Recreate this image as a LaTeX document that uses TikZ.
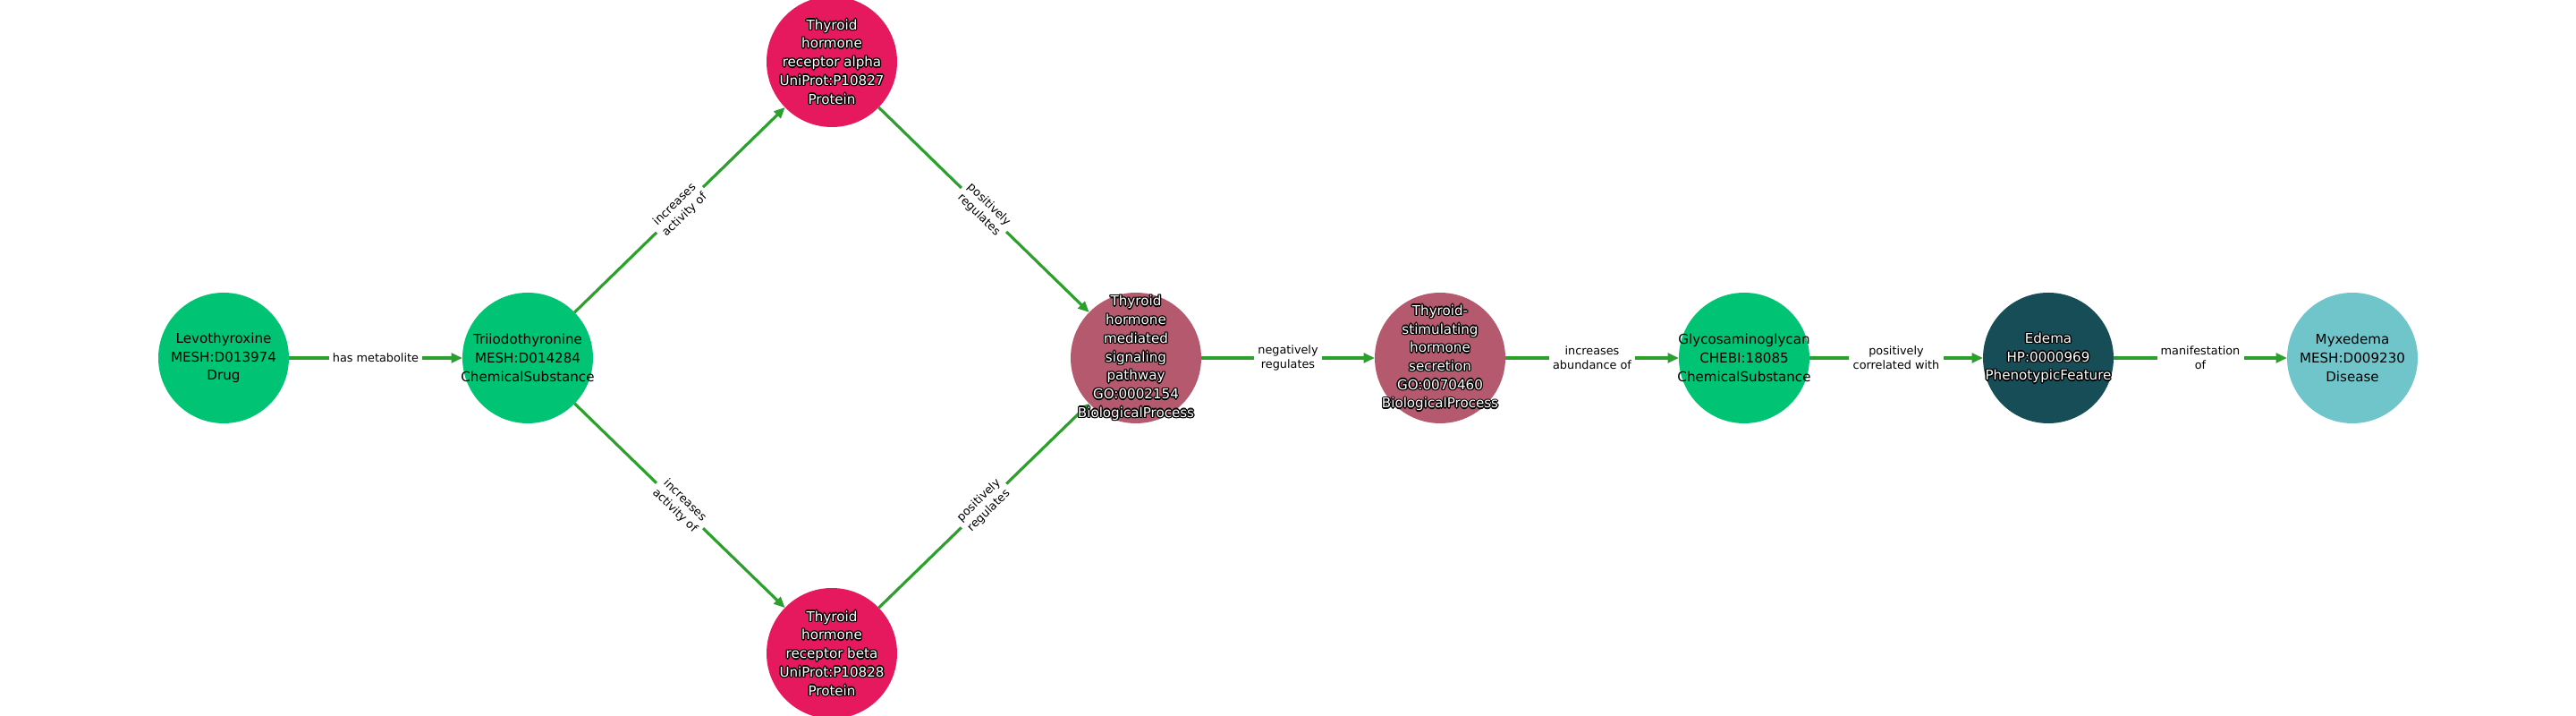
\documentclass[tikz,border=0pt]{standalone}
\usepackage{fontspec}
\setmainfont{DejaVu Sans}
\usepackage{tikz}
\usetikzlibrary{positioning, arrows.meta}
\definecolor{chem}{HTML}{00C373}
\definecolor{prot}{HTML}{E6195F}
\definecolor{bioproc}{HTML}{B55A6E}
\definecolor{pheno}{HTML}{174D57}
\definecolor{disease}{HTML}{70C5CB}
\definecolor{edgegreen}{HTML}{2CA02C}

% white text with a black rim
\newcommand{\halotext}[2]{%
    \foreach \dx/\dy in {0.4/0,-0.4/0,0/0.4,0/-0.4,0.28/0.28,-0.28/0.28,0.28/-0.28,-0.28/-0.28}
        \node [txt, text=black, xshift=\dx pt, yshift=\dy pt] at (#1) {#2};
    \node [txt, text=white] at (#1) {#2};
}

\begin{document}
\begin{tikzpicture}[>={Triangle[length=3.5pt, width=3pt]},
    ent/.style={circle, minimum size=1.46cm, inner sep=0pt, outer sep=0pt},
    txt/.style={align=center, inner sep=0pt, font=\fontsize{4.3}{5.9}\selectfont},
    link/.style={->, draw=edgegreen, line width=0.9pt},
    elabel/.style={midway, fill=white, inner sep=1.2pt, align=center,
        font=\fontsize{3.65}{4.55}\selectfont}]

    \useasboundingbox (0,0) rectangle (28.8,8);

    \node [ent, fill=chem] (levo) at (2.5,4) {};
    \node [ent, fill=chem, right=1.94 of levo] (trii) {};
    \node [ent, fill=prot] (thra) at (9.3,7.31) {};
    \node [ent, fill=prot] (thrb) at (9.3,0.7) {};
    \node [ent, fill=bioproc] (thsig) at (12.7,4) {};
    \node [ent, fill=bioproc, right=1.94 of thsig] (tshsec) {};
    \node [ent, fill=chem, right=1.94 of tshsec] (gag) {};
    \node [ent, fill=pheno, right=1.94 of gag] (edema) {};
    \node [ent, fill=disease, right=1.94 of edema] (myx) {};

    % edges %
    \draw [link] (levo) -- node [elabel] {has metabolite} (trii);
    \draw [link] (trii) -- node [elabel, sloped] {increases\\activity of} (thra);
    \draw [link] (trii) -- node [elabel, sloped] {increases\\activity of} (thrb);
    \draw [link] (thra) -- node [elabel, sloped] {positively\\regulates} (thsig);
    \draw [link] (thrb) -- node [elabel, sloped] {positively\\regulates} (thsig);
    \draw [link] (thsig) -- node [elabel] {negatively\\regulates} (tshsec);
    \draw [link] (tshsec) -- node [elabel] {increases\\abundance of} (gag);
    \draw [link] (gag) -- node [elabel] {positively\\correlated with} (edema);
    \draw [link] (edema) -- node [elabel] {manifestation\\of} (myx);

    % labels %
    \node [txt] at (levo) {Levothyroxine\\MESH:D013974\\Drug};
    \node [txt] at (trii) {Triiodothyronine\\MESH:D014284\\ChemicalSubstance};
    \halotext{thra}{Thyroid\\hormone\\receptor alpha\\UniProt:P10827\\Protein}
    \halotext{thrb}{Thyroid\\hormone\\receptor beta\\UniProt:P10828\\Protein}
    \halotext{thsig}{Thyroid\\hormone\\mediated\\signaling\\pathway\\GO:0002154\\BiologicalProcess}
    \halotext{tshsec}{Thyroid-\\stimulating\\hormone\\secretion\\GO:0070460\\BiologicalProcess}
    \node [txt] at (gag) {Glycosaminoglycan\\CHEBI:18085\\ChemicalSubstance};
    \halotext{edema}{Edema\\HP:0000969\\PhenotypicFeature}
    \node [txt] at (myx) {Myxedema\\MESH:D009230\\Disease};
\end{tikzpicture}
\end{document}
